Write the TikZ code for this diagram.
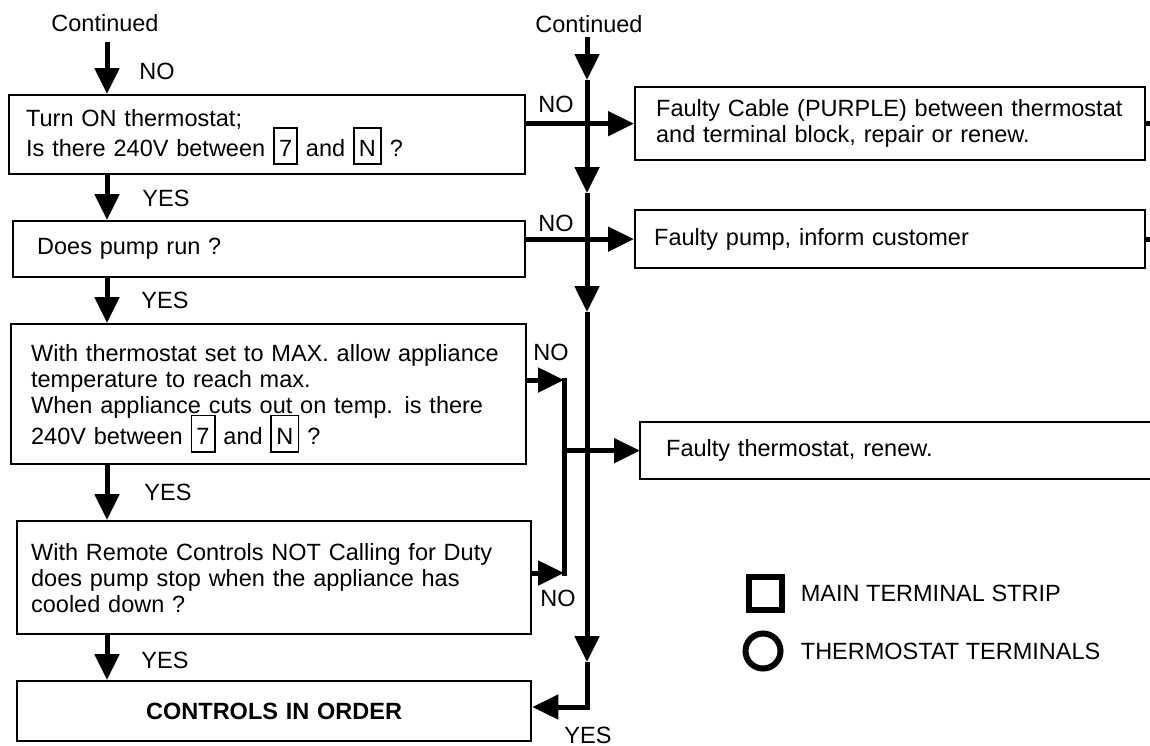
\documentclass[tikz,border=0pt]{standalone}
\usepackage{fontspec}
\setmainfont{Liberation Sans}
\usetikzlibrary{positioning,arrows.meta}

% small boxed terminal number inside the text
\newcommand{\tb}[1]{\smash{\fboxsep=2.1pt\fboxrule=0.9pt\fbox{\rule[-1.3pt]{0pt}{13pt}#1}}}

\tikzset{
	qbox/.style={draw, line width=1.15pt, anchor=north west, align=left, inner ysep=0pt},
	flow/.style={line width=2.5pt, line join=miter, -{Triangle[length=13pt,width=12pt]}},
	wire/.style={line width=2.5pt},
	lbl/.style={inner sep=0pt},
}

\begin{document}
\begin{tikzpicture}[x=0.5pt, y=-0.5pt, font=\fontsize{11.75}{13}\selectfont]
				\useasboundingbox (0,0) rectangle (1150,745);
				
				% question boxes down the left
				\node[qbox, minimum width=258pt, minimum height=39.5pt, inner xsep=8.5pt, text width=241pt] (q1) at (8,94)
					{\raisebox{2pt}{Turn ON thermostat;}\\[2pt] \raisebox{2pt}{Is there 240V between \tb{7} and \tb{N} ?}};
				\node[qbox, minimum width=256pt, minimum height=28pt, inner xsep=12pt, text width=232pt] (q2) at (12,220)
					{\raisebox{-4.5pt}{Does pump run ?}};
				\node[qbox, minimum width=257.5pt, minimum height=70pt, inner xsep=10pt, text width=237.5pt] (q3) at (10,323)
					{With thermostat set to MAX. allow appliance\\ temperature to reach max.\\ When appliance cuts out on temp. is there\\[2.5pt] 240V between \tb{7} and \tb{N} ?};
				\node[qbox, minimum width=257pt, minimum height=56.5pt, inner xsep=7pt, text width=243pt] (q4) at (16,520)
					{With Remote Controls NOT Calling for Duty\\ does pump stop when the appliance has\\ cooled down ?};
				\node[qbox, align=center, minimum width=257pt, minimum height=30pt, inner xsep=5pt, text width=247pt] (q5) at (16,680)
					{\textbf{CONTROLS IN ORDER}};
				
				% result boxes on the right
				\node[qbox, minimum width=255pt, minimum height=36.5pt, inner xsep=10.5pt, text width=234pt] (r1) at (634,86)
					{Faulty Cable (PURPLE) between thermostat\\ and terminal block, repair or renew.};
				\node[qbox, minimum width=255pt, minimum height=29pt, inner xsep=9.5pt, text width=236pt] (r2) at (634,209)
					{Faulty pump, inform customer};
				\node[qbox, draw=none, minimum width=255pt, minimum height=27.5pt, inner xsep=12.5pt, text width=230pt] (r3) at (640,422)
					{Faulty thermostat, renew.};
				\draw[line width=1.15pt] (r3.north east) -- (r3.north west) -- (r3.south west) -- (r3.south east);
				
				% entry points
				\node[lbl] (cont1) at (105,23) {Continued};
				\node[lbl] (cont2) at (589,24) {Continued};
				\coordinate (in1) at (107,42);
				\coordinate (top2) at (587,37);
				\coordinate (t1) at (587,80);
				\coordinate (t2) at (587,193);
				\coordinate (t3) at (587,312);
				\coordinate (t4) at (587,662);
				\coordinate (corner) at (587,707);
				\coordinate (j1) at (564,380);
				\coordinate (j2) at (564,573);
				\coordinate (edge) at (1150,0);
				
				% left column
				\draw[flow] (in1) -- (in1 |- q1.north);
				\draw[flow] (in1 |- q1.south) -- (in1 |- q2.north);
				\draw[flow] (in1 |- q2.south) -- (in1 |- q3.north);
				\draw[flow] (in1 |- q3.south) -- (in1 |- q4.north);
				\draw[flow] (in1 |- q4.south) -- (in1 |- q5.north);
				
				% long line on the right
				\draw[flow] (top2) -- (t1);
				\draw[flow] (t1) -- (t2);
				\draw[flow] (t2) -- (t3);
				\draw[flow] (t3) -- (t4);
				\draw[flow] (t4) -- (corner) -- (corner -| q5.east);
				
				% NO branches
				\draw[flow] (r1.west -| q1.east) -- (r1.west);
				\draw[flow] (r2.west -| q2.east) -- (r2.west);
				\draw[flow] (j1 -| q3.east) -- (j1);
				\draw[flow] (j2 -| q4.east) -- (j2);
				\draw[wire, line cap=rect] (j1) -- (j2);
				\draw[flow] (j1 |- r3.west) -- (r3.west);
				\draw[wire] (r1.east) -- (r1.east -| edge);
				\draw[wire] (r2.east) -- (r2.east -| edge);
				
				% YES / NO labels
				\node[lbl] (no0) at (157,71) {NO};
				\node[lbl] (yes1) at (166,198) {YES};
				\node[lbl] (yes2) at (165,300) {YES};
				\node[lbl] (yes3) at (168,492) {YES};
				\node[lbl] (yes4) at (165,660) {YES};
				\node[lbl] (no1) at (556,104) {NO};
				\node[lbl] (no2) at (556,223) {NO};
				\node[lbl] (no3) at (551,352) {NO};
				\node[lbl] (no4) at (558,598) {NO};
				\node[lbl] (yes5) at (588,735) {YES};
				
				% key
				\node[draw, line width=3pt, minimum size=16.5pt, inner sep=0pt] (sq) at (765,593) {};
				\node[draw, circle, line width=3pt, minimum size=17.5pt, inner sep=0pt] (ci) at (763,651) {};
				\node[lbl, right=8pt of sq] (sqtext) {MAIN TERMINAL STRIP};
				\node[lbl, right=8.5pt of ci] (citext) {THERMOSTAT TERMINALS};
			\end{tikzpicture}
\end{document}
